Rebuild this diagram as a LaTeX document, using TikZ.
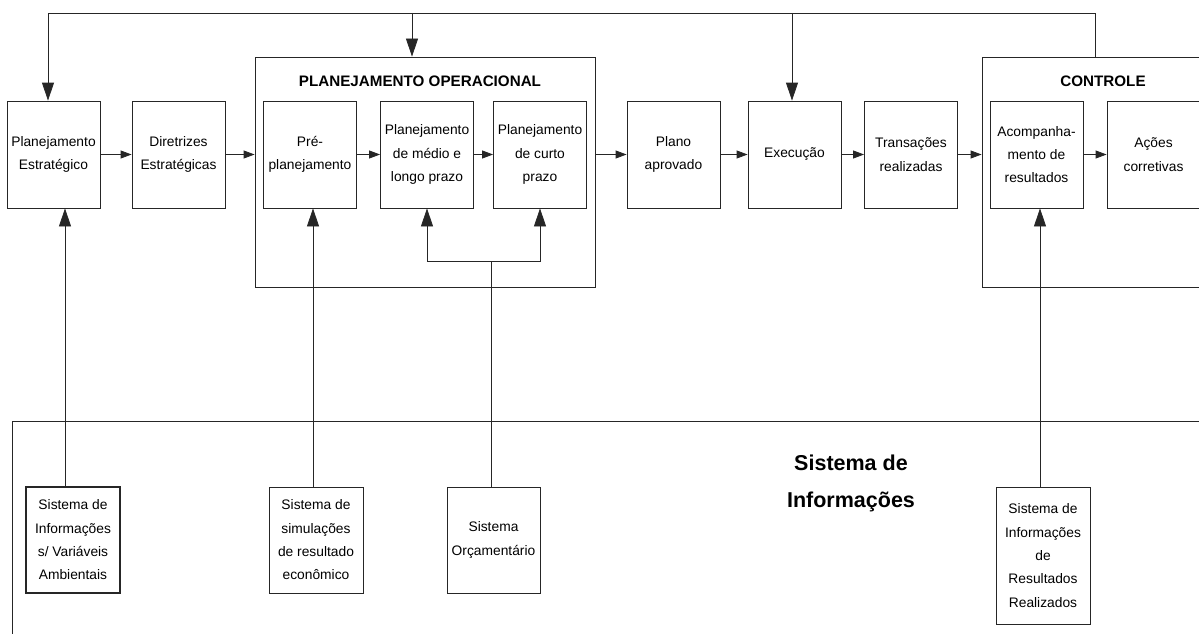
\documentclass[tikz,border=0pt]{standalone}
\usepackage{fontspec}
\setmainfont{Liberation Sans}
\usetikzlibrary{arrows.meta}
\begin{document}
\begin{tikzpicture}[x=1pt,y=-1pt,
  ln/.style={line width=0.8pt, draw=black!85},
  box/.style={ln, rectangle, minimum width=93pt, minimum height=107pt, inner sep=0pt,
    align=center, font=\fontsize{13.8}{23.3}\selectfont},
  sysbox/.style={box, minimum width=94pt, minimum height=106pt},
  grp/.style={ln, rectangle, inner sep=0pt},
  title/.style={font=\fontsize{15.2}{18}\selectfont\bfseries, inner sep=0pt},
  bigarr/.style={ln, -{Triangle[length=18pt,width=12pt]}},
  smallarr/.style={ln, -{Triangle[length=11pt,width=8pt]}}
]
\useasboundingbox (0,0) rectangle (1199,634);
\clip (0,0) rectangle (1199,634);

% group frames
\node[grp, minimum width=340pt, minimum height=230pt] (po) at (425,172) {};
\node[grp, minimum width=226pt, minimum height=230pt] (ctl) at (1095,172) {};
\node[grp, minimum width=1230pt, minimum height=260pt] (si) at (627,551) {};
\node[title] (potitle) at (420,81) {PLANEJAMENTO OPERACIONAL};
\node[title] (ctltitle) at (1103,81) {CONTROLE};
\node[font=\fontsize{21.5}{37}\selectfont\bfseries, align=center, inner sep=0pt]
  (sititle) at (851,483) {Sistema de\\Informações};

% process chain
\node[box] (pe)  at (53.5,154.5)  {Planejamento\\Estratégico};
\node[box] (de)  at (178.5,154.5) {Diretrizes\\Estratégicas};
\node[box] (pre) at (310,154.5)   {Pré-\\planejamento};
\node[box] (med) at (427,154.5)   {Planejamento\\de médio e\\longo prazo};
\node[box] (cur) at (540,154.5)   {Planejamento\\de curto\\prazo};
\node[box] (pla) at (673.5,154.5) {Plano\\aprovado};
\node[box] (exe) at (794.5,154.5) {Execução};
\node[box] (tra) at (911,154.5)   {Transações\\realizadas};
\node[box] (aco) at (1036.5,154.5){Acompanha-\\mento de\\resultados};
\node[box] (acr) at (1153.5,154.5){Ações\\corretivas};

% information systems
\node[sysbox, line width=1.3pt] (sa) at (73,540)   {Sistema de\\Informações\\s/ Variáveis\\Ambientais};
\node[sysbox] (ss) at (316,540)  {Sistema de\\simulações\\de resultado\\econômico};
\node[sysbox, minimum width=93pt] (so) at (493.5,540) {Sistema\\Orçamentário};
\node[sysbox, minimum height=137pt] (sr) at (1043,555.5) {Sistema de\\Informações\\de\\Resultados\\Realizados};

% horizontal flow
\draw[smallarr] (pe.east) -- (de.west);
\draw[smallarr] (de.east) -- (de.east -| po.west);
\draw[smallarr] (pre.east) -- (med.west);
\draw[smallarr] (med.east) -- (cur.west);
\draw[smallarr] (pla.west -| po.east) -- (pla.west);
\draw[smallarr] (pla.east) -- (exe.west);
\draw[smallarr] (exe.east) -- (tra.west);
\draw[smallarr] (tra.east) -- (tra.east -| ctl.west);
\draw[smallarr] (aco.east) -- (acr.west);

% feedback from control
\coordinate (fbr) at (1095,13);
\coordinate (fbl) at (48,13);
\coordinate (fbp) at (412,13);
\coordinate (fbe) at (792,13);
\draw[bigarr] (ctl.north -| fbr) -- (fbr) -- (fbl) -- (pe.north -| fbl);
\draw[bigarr] (fbp) -- (po.north -| fbp);
\draw[bigarr] (fbe) -- (exe.north -| fbe);

% information inputs
\coordinate (xa) at (65,0);
\coordinate (xs) at (313,0);
\coordinate (xr) at (1040,0);
\draw[bigarr] (sa.north -| xa) -- (pe.south -| xa);
\draw[bigarr] (ss.north -| xs) -- (pre.south -| xs);
\draw[bigarr] (sr.north -| xr) -- (aco.south -| xr);
\coordinate (jo) at (491,261);
\draw[ln] (so.north -| jo) -- (jo);
\draw[bigarr] (jo) -| (med.south);
\draw[bigarr] (jo) -| (cur.south);
\end{tikzpicture}
\end{document}
